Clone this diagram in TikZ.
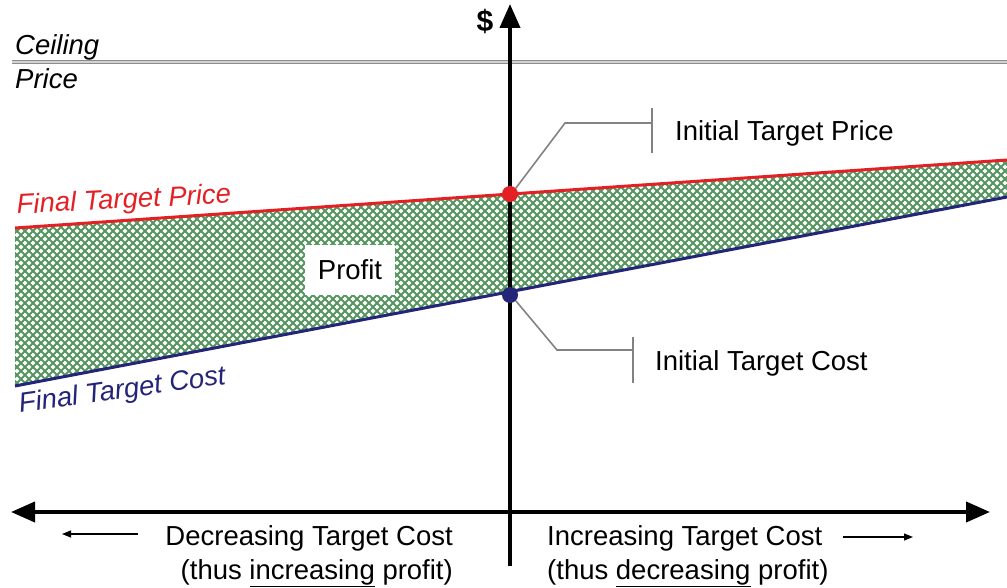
\documentclass[tikz,border=0pt]{standalone}
\usepackage{fontspec}
\setmainfont{Liberation Sans}
\usetikzlibrary{arrows.meta}
\definecolor{rd}{RGB}{228,32,36}
\definecolor{nv}{RGB}{36,36,120}
\definecolor{hatchg}{RGB}{86,150,96}
\definecolor{callg}{RGB}{130,130,130}
\tikzset{
  lbl/.style={font=\fontsize{27.5}{30}\selectfont, inner sep=0pt},
  ilbl/.style={font=\itshape\fontsize{27.5}{30}\selectfont, inner sep=0pt},
  mainaxis/.style={line width=4pt, -{Triangle[length=24pt,width=20pt]}},
  smallarrow/.style={line width=1.2pt, -{Triangle[length=9pt,width=7pt]}},
  callout/.style={draw=callg, line width=1.6pt},
  dotnode/.style={circle, inner sep=0pt, minimum size=16pt},
  hatchline/.style={draw=hatchg, line width=2pt},
}
\begin{document}
\begin{tikzpicture}[x=1pt,y=-1pt]
\useasboundingbox (0,0) rectangle (1007,588);
% profit band (cross-hatched)
\begin{scope}
  \clip (15,228) -- (1007,160) -- (1007,197) -- (15,386) -- cycle;
  \foreach \i in {0,...,160} {
    \pgfmathsetmacro{\xa}{-240+8*\i}
    \draw[hatchline] (\xa,150) -- ++(250,250);
    \draw[hatchline] (\xa,400) -- ++(250,-250);
  }
\end{scope}
% ceiling price
\coordinate (cl) at (12,62);
\coordinate (cr) at (1007,62);
\draw[draw=gray!90, double=gray!35, line width=1.3pt, double distance=1.4pt] (cl) -- (cr);
\node[ilbl, anchor=base west] (ceil) at (15,55) {Ceiling};
\node[ilbl, anchor=base west] (price) at (15,89) {Price};
% lines
\coordinate (rl) at (15,228);
\coordinate (rr) at (1007,160);
\coordinate (bl) at (15,386);
\coordinate (br) at (1007,197);
\draw[rd, line width=3pt] (rl) -- (rr);
\draw[nv, line width=3pt] (bl) -- (br);
% axes
\coordinate (vb) at (510,566);
\coordinate (vt) at (510,4);
\coordinate (hl) at (11,512);
\coordinate (hr) at (990,512);
\draw[mainaxis] (vb) -- (vt);
\draw[mainaxis, {Triangle[length=24pt,width=20pt]}-{Triangle[length=24pt,width=20pt]}] (hl) -- (hr);
\node[font=\bfseries\fontsize{30}{30}\selectfont, inner sep=0pt] (dollar) at (485,21) {\$};
% dots
\node[dotnode, fill=rd] (itp) at (510,194) {};
\node[dotnode, fill=nv] (itc) at (510,295) {};
% callouts
\coordinate (p1) at (565,123);
\coordinate (p2) at (652,123);
\coordinate (p2t) at (652,108);
\coordinate (p2b) at (652,153);
\draw[callout] (itp.45) -- (p1) -- (p2);
\draw[callout] (p2t) -- (p2b);
\node[lbl, anchor=base west] (itplbl) at (675,141) {Initial Target Price};
\coordinate (c1) at (557,350);
\coordinate (c2) at (633,350);
\coordinate (c2t) at (633,337);
\coordinate (c2b) at (633,383);
\draw[callout] (itc.-45) -- (c1) -- (c2);
\draw[callout] (c2t) -- (c2b);
\node[lbl, anchor=base west] (itclbl) at (655,370) {Initial Target Cost};
% final labels
\node[ilbl, text=rd, anchor=base west, rotate=3] (ftp) at (17,214) {Final Target Price};
\node[ilbl, text=nv, anchor=base west, rotate=8] (ftc) at (20,413) {Final Target Cost};
% profit
\node[lbl, fill=white, minimum width=90pt, minimum height=50pt] (profit) at (350,270) {Profit};
% bottom texts
\node[lbl, anchor=base east] (dec1) at (453,545) {Decreasing Target Cost};
\node[lbl, anchor=base east] (dec2) at (453,579) {(thus \underline{increasing} profit)};
\node[lbl, anchor=base west] (inc1) at (547,545) {Increasing Target Cost};
\node[lbl, anchor=base west] (inc2) at (547,579) {(thus \underline{decreasing} profit)};
\coordinate (la1) at (138,534);
\coordinate (la2) at (62,534);
\draw[smallarrow] (la1) -- (la2);
\coordinate (ra1) at (843,537);
\coordinate (ra2) at (913,537);
\draw[smallarrow] (ra1) -- (ra2);
\end{tikzpicture}
\end{document}
